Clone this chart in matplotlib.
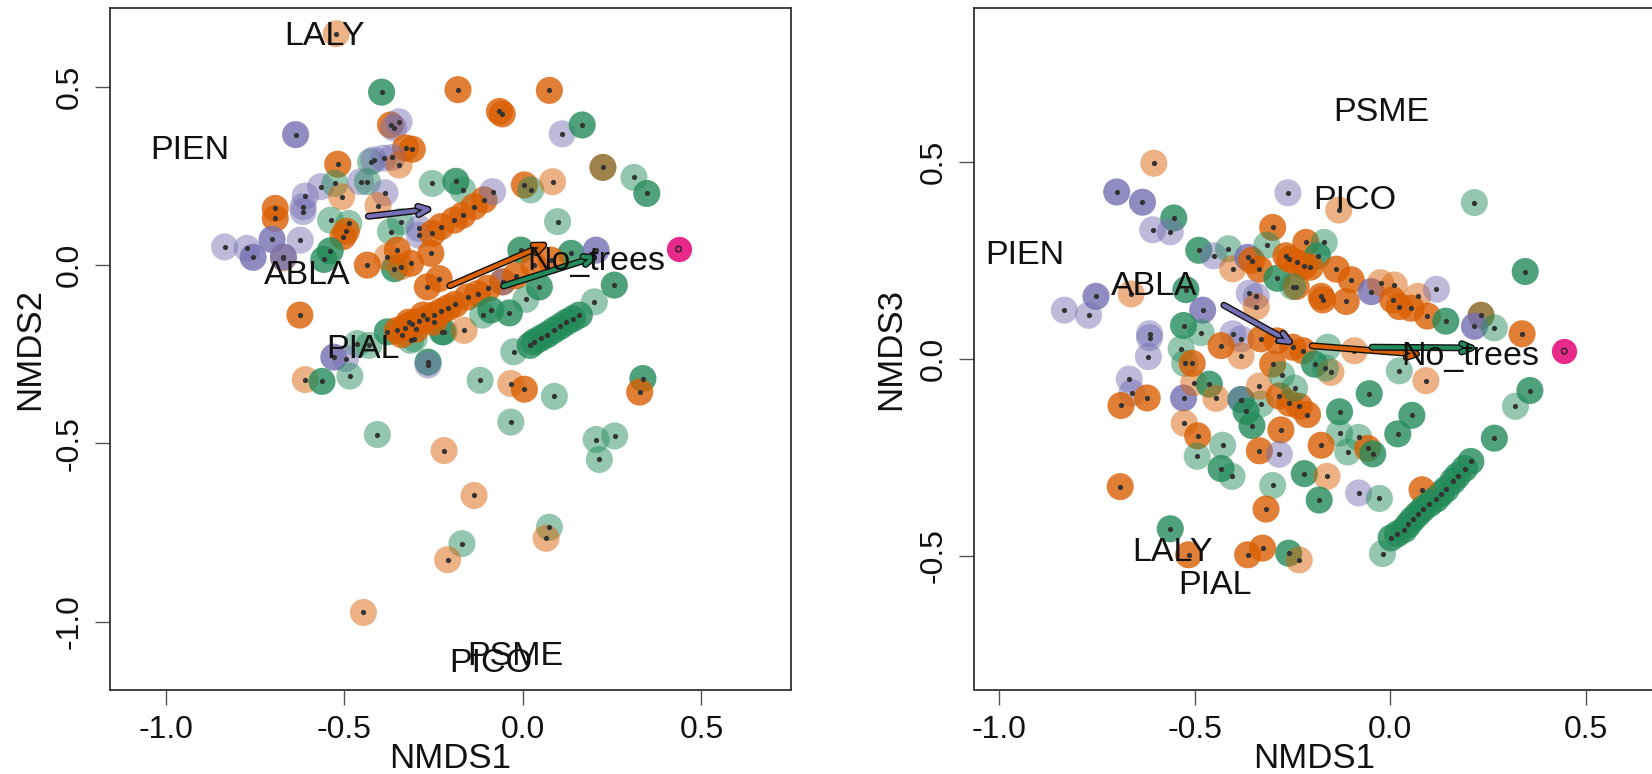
import matplotlib.pyplot as plt
import matplotlib.patheffects as pe
from matplotlib.colors import to_rgba

plt.rcParams['font.family'] = ['Liberation Sans', 'DejaVu Sans']
plt.rcParams['axes.unicode_minus'] = False

# ---- site scores, panel 1 (NMDS1 vs NMDS2) ----
# group codes: g/o/p = green/orange/purple, L/D = light/dark, b = brown, pk = pink
site12 = [
    (-0.523, 0.649, 'oL'), (-0.396, 0.485, 'gD'), (-0.182, 0.492, 'oD'), (0.074, 0.490, 'oD'),
    (-0.066, 0.431, 'oD'), (-0.058, 0.424, 'oD'), (0.110, 0.368, 'pL'), (0.166, 0.393, 'gD'),
    (-0.637, 0.366, 'pD'), (-0.371, 0.393, 'oD'), (-0.347, 0.402, 'pL'), (-0.362, 0.385, 'pL'),
    (-0.310, 0.325, 'oD'), (-0.329, 0.329, 'oD'), (-0.519, 0.283, 'oD'), (-0.427, 0.290, 'gL'),
    (-0.418, 0.295, 'pL'), (-0.390, 0.300, 'pL'), (-0.366, 0.302, 'pL'), (-0.347, 0.281, 'oL'),
    (0.224, 0.274, 'b'), (0.311, 0.246, 'gL'), (0.347, 0.201, 'gD'), (-0.567, 0.220, 'pL'),
    (-0.527, 0.229, 'gL'), (-0.508, 0.192, 'oL'), (-0.610, 0.194, 'pL'), (-0.616, 0.164, 'pL'),
    (-0.616, 0.150, 'pL'), (-0.455, 0.234, 'pL'), (-0.436, 0.234, 'gL'), (-0.387, 0.203, 'pL'),
    (-0.406, 0.167, 'oL'), (-0.254, 0.229, 'gL'), (-0.188, 0.235, 'gD'), (-0.169, 0.211, 'gL'),
    (-0.694, 0.159, 'oD'), (-0.694, 0.131, 'oD'), (-0.539, 0.126, 'gL'), (-0.488, 0.117, 'gL'),
    (-0.495, 0.095, 'oD'), (-0.504, 0.080, 'oD'), (-0.540, 0.040, 'gD'), (-0.558, 0.016, 'gD'),
    (-0.836, 0.051, 'pL'), (-0.773, 0.047, 'pL'), (-0.756, 0.022, 'pD'), (-0.703, 0.072, 'pD'),
    (-0.624, 0.070, 'pL'), (-0.671, 0.020, 'oL'), (-0.671, 0.023, 'pD'), (-0.371, 0.094, 'gL'),
    (-0.343, 0.122, 'gL'), (-0.291, 0.103, 'pL'), (-0.291, 0.084, 'pL'), (-0.109, 0.183, 'oD'),
    (-0.085, 0.206, 'pL'), (-0.137, 0.164, 'oD'), (-0.169, 0.140, 'oD'), (-0.193, 0.126, 'oD'),
    (-0.230, 0.108, 'oD'), (-0.254, 0.089, 'oD'), (-0.258, 0.033, 'oD'), (-0.436, 0.000, 'oD'),
    (-0.360, -0.010, 'gD'), (-0.380, 0.023, 'oL'), (-0.352, 0.042, 'oD'), (-0.315, 0.005, 'oD'),
    (-0.343, -0.005, 'oL'), (0.004, 0.225, 'oD'), (0.022, 0.211, 'gL'), (0.083, 0.234, 'oL'),
    (0.097, 0.122, 'gL'), (-0.006, 0.042, 'gD'), (0.135, 0.033, 'gD'), (0.205, 0.042, 'pD'),
    (0.256, -0.056, 'gD'), (0.200, -0.103, 'gL'), (0.079, 0.014, 'oD'), (0.030, 0.000, 'oD'),
    (-0.057, -0.047, 'oD'), (-0.057, -0.047, 'pL'), (-0.268, -0.061, 'oD'), (-0.235, -0.038, 'oD'),
    (-0.155, -0.089, 'oD'), (-0.127, -0.080, 'oD'), (-0.099, -0.065, 'oD'), (-0.020, -0.030, 'oD'),
    (-0.380, -0.187, 'gD'), (-0.315, -0.211, 'gL'), (-0.226, -0.187, 'gD'), (-0.305, -0.206, 'gL'),
    (-0.221, -0.187, 'gL'), (-0.352, -0.183, 'oD'), (-0.340, -0.195, 'oD'), (-0.330, -0.175, 'oD'),
    (-0.320, -0.160, 'oD'), (-0.310, -0.165, 'oD'), (-0.300, -0.180, 'oD'), (-0.290, -0.158, 'oD'),
    (-0.280, -0.140, 'oD'), (-0.270, -0.150, 'oD'), (-0.250, -0.140, 'oD'), (-0.250, -0.160, 'oD'),
    (-0.230, -0.130, 'oD'), (-0.210, -0.120, 'oD'), (-0.190, -0.110, 'oD'), (-0.165, -0.183, 'oL'),
    (-0.266, -0.272, 'gD'), (-0.266, -0.280, 'pL'), (-0.530, -0.258, 'pD'), (-0.464, -0.220, 'gL'),
    (-0.432, -0.225, 'gL'), (-0.497, -0.262, 'pL'), (-0.610, -0.321, 'oL'), (-0.563, -0.326, 'gD'),
    (-0.485, -0.311, 'gL'), (-0.408, -0.475, 'gL'), (-0.221, -0.520, 'oL'), (-0.625, -0.140, 'oD'),
    (-0.026, -0.243, 'gL'), (-0.120, -0.323, 'gL'), (-0.034, -0.332, 'oL'), (0.004, -0.348, 'oD'),
    (0.088, -0.368, 'gL'), (0.336, -0.318, 'gD'), (0.327, -0.356, 'oD'), (-0.034, -0.440, 'gL'),
    (0.205, -0.489, 'gL'), (0.257, -0.479, 'gL'), (0.214, -0.545, 'gL'), (-0.137, -0.646, 'oL'),
    (0.074, -0.735, 'gL'), (0.065, -0.766, 'oL'), (-0.171, -0.781, 'gL'), (-0.211, -0.826, 'oL'),
    (-0.447, -0.974, 'oL'), (0.020, -0.225, 'gD'), (0.032, -0.215, 'gD'), (0.050, -0.205, 'gD'),
    (0.068, -0.195, 'gD'), (0.086, -0.183, 'gD'), (0.104, -0.172, 'gD'), (0.122, -0.160, 'gD'),
    (0.140, -0.150, 'gD'), (0.158, -0.140, 'gD'), (-0.038, -0.134, 'gD'), (-0.113, -0.140, 'gL'),
    (-0.090, -0.126, 'gD'), (0.008, -0.096, 'gL'), (0.046, -0.061, 'gD'),
    (0.436, 0.045, 'pk'),
]

# ---- site scores, panel 2 (NMDS1 vs NMDS3) ----
site13 = [
    (-0.605, 0.497, 'oL'), (-0.700, 0.424, 'pD'), (-0.634, 0.398, 'pD'), (-0.554, 0.358, 'gD'),
    (-0.608, 0.328, 'pL'), (-0.563, 0.323, 'pL'), (-0.262, 0.422, 'pL'), (-0.132, 0.378, 'oL'),
    (0.215, 0.397, 'gL'), (0.345, 0.222, 'gD'), (-0.301, 0.334, 'oD'), (-0.490, 0.276, 'gD'),
    (-0.452, 0.262, 'pL'), (-0.414, 0.280, 'gL'), (-0.403, 0.229, 'oL'), (-0.365, 0.258, 'pD'),
    (-0.355, 0.250, 'oD'), (-0.316, 0.289, 'gL'), (-0.335, 0.228, 'oD'), (-0.290, 0.205, 'gD'),
    (-0.267, 0.262, 'oD'), (-0.239, 0.245, 'oD'), (-0.216, 0.296, 'oD'), (-0.169, 0.296, 'gL'),
    (-0.186, 0.262, 'gD'), (-0.220, 0.236, 'oD'), (-0.258, 0.253, 'oD'), (-0.205, 0.233, 'oD'),
    (-0.241, 0.184, 'oD'), (-0.177, 0.159, 'oD'), (-0.173, 0.150, 'oD'), (-0.113, 0.146, 'oD'),
    (-0.138, 0.228, 'oD'), (-0.100, 0.201, 'oD'), (-0.049, 0.171, 'pD'), (-0.025, 0.194, 'oL'),
    (0.010, 0.188, 'oL'), (0.006, 0.150, 'oD'), (0.023, 0.133, 'oD'), (0.053, 0.129, 'oD'),
    (0.070, 0.159, 'oL'), (0.095, 0.109, 'oD'), (0.118, 0.177, 'pL'), (0.142, 0.096, 'gD'),
    (0.232, 0.111, 'b'), (0.215, 0.083, 'pD'), (0.266, 0.079, 'gL'), (0.337, 0.064, 'oD'),
    (-0.361, 0.167, 'pL'), (-0.343, 0.159, 'pL'), (-0.343, 0.133, 'oL'), (-0.250, 0.184, 'gL'),
    (-0.834, 0.124, 'pL'), (-0.772, 0.111, 'pL'), (-0.753, 0.159, 'pD'), (-0.663, 0.165, 'oL'),
    (-0.523, 0.176, 'gD'), (-0.480, 0.124, 'pD'), (-0.616, 0.064, 'pL'), (-0.616, 0.054, 'pL'),
    (-0.619, 0.006, 'pL'), (-0.529, 0.085, 'gD'), (-0.484, 0.067, 'gL'), (-0.535, 0.026, 'gL'),
    (-0.526, -0.011, 'gL'), (-0.507, -0.011, 'oD'), (-0.403, 0.064, 'pL'), (-0.382, 0.051, 'pL'),
    (-0.433, 0.034, 'oD'), (-0.382, 0.008, 'oL'), (-0.331, 0.051, 'oD'), (-0.290, 0.046, 'oD'),
    (-0.301, -0.013, 'oD'), (-0.250, 0.030, 'oD'), (-0.224, 0.021, 'oD'), (-0.194, -0.013, 'gD'),
    (-0.160, 0.030, 'gL'), (-0.152, -0.034, 'oL'), (-0.166, -0.023, 'gL'), (-0.092, 0.021, 'oL'),
    (0.023, -0.030, 'gL'), (0.091, -0.055, 'oL'), (-0.668, -0.051, 'pL'), (-0.661, -0.086, 'pL'),
    (-0.689, -0.118, 'oD'), (-0.622, -0.099, 'oD'), (-0.529, -0.099, 'pD'), (-0.503, -0.060, 'oL'),
    (-0.463, -0.064, 'gD'), (-0.446, -0.100, 'oL'), (-0.382, -0.103, 'gD'), (-0.382, -0.103, 'pL'),
    (-0.369, -0.133, 'gD'), (-0.331, -0.114, 'gL'), (-0.335, -0.069, 'oL'), (-0.284, -0.094, 'oD'),
    (-0.258, -0.112, 'oD'), (-0.233, -0.120, 'oD'), (-0.212, -0.141, 'oD'), (-0.130, -0.134, 'gD'),
    (-0.278, -0.040, 'gL'), (-0.245, -0.074, 'gL'), (-0.054, -0.088, 'gD'), (-0.527, -0.163, 'oL'),
    (-0.493, -0.195, 'oD'), (-0.494, -0.247, 'gL'), (-0.429, -0.219, 'gL'), (-0.354, -0.169, 'gD'),
    (-0.280, -0.180, 'oD'), (-0.335, -0.233, 'oD'), (-0.284, -0.242, 'pL'), (-0.433, -0.278, 'gD'),
    (-0.405, -0.298, 'gL'), (-0.691, -0.324, 'oD'), (-0.301, -0.321, 'gL'), (-0.318, -0.381, 'oD'),
    (-0.563, -0.431, 'gD'), (-0.516, -0.497, 'oD'), (-0.365, -0.497, 'oD'), (-0.327, -0.480, 'oD'),
    (-0.260, -0.493, 'gD'), (-0.233, -0.510, 'oL'), (-0.130, -0.188, 'gL'), (-0.109, -0.236, 'gL'),
    (-0.081, -0.199, 'gL'), (-0.177, -0.219, 'oD'), (-0.058, -0.227, 'oD'), (-0.045, -0.241, 'gD'),
    (0.055, -0.143, 'gD'), (0.019, -0.190, 'gD'), (-0.220, -0.291, 'gD'), (-0.162, -0.298, 'oL'),
    (-0.182, -0.358, 'gD'), (-0.081, -0.340, 'pL'), (-0.028, -0.354, 'gL'), (0.357, -0.080, 'gD'),
    (0.320, -0.120, 'gL'), (0.266, -0.201, 'gD'), (0.206, -0.260, 'gD'), (0.190, -0.278, 'gD'),
    (0.172, -0.296, 'gD'), (0.160, -0.310, 'gD'), (0.143, -0.330, 'gD'), (0.130, -0.342, 'gD'),
    (0.081, -0.332, 'oD'), (0.117, -0.356, 'gD'), (0.100, -0.368, 'gD'), (0.083, -0.381, 'gD'),
    (0.070, -0.394, 'gD'), (0.057, -0.407, 'gD'), (0.046, -0.420, 'gD'), (0.036, -0.433, 'gD'),
    (0.018, -0.444, 'gD'), (0.002, -0.454, 'gD'), (-0.020, -0.494, 'gL'),
    (0.445, 0.020, 'pk'),
]

# ---- species scores ----
species = ['LALY', 'PIEN', 'ABLA', 'PIAL', 'PSME', 'PICO', 'No_trees']
species_nmds1 = [-0.556, -0.934, -0.603, -0.449, -0.022, -0.091, 0.205]
species_nmds2 = [0.640, 0.322, -0.030, -0.238, -1.097, -1.118, 0.010]
species_nmds3 = [-0.490, 0.262, 0.185, -0.575, 0.626, 0.402, 0.006]

# ---- fitted vectors (start x, start y, end x, end y) ----
arrow_cols = ['#7570B3', '#D95F02', '#238B5A']
arrows12 = [(-0.441, 0.136, -0.244, 0.159), (-0.212, -0.061, 0.079, 0.065), (-0.062, -0.061, 0.219, 0.028)]
arrows13 = [(-0.432, 0.140, -0.240, 0.034), (-0.207, 0.034, 0.087, 0.011), (-0.054, 0.030, 0.228, 0.028)]

base = {'g': '#238B5A', 'o': '#D95F02', 'p': '#7570B3'}
shade = {'L': 0.48, 'D': 0.8}


def rgba(code):
    if code == 'b':
        return to_rgba('#8E6B2C', 0.85)
    if code == 'pk':
        return to_rgba('#E7298A', 1.0)
    return to_rgba(base[code[0]], shade[code[1]])


def draw(ax, sites, sp_y, arrows, xlim, ylim, ylab):
    pts = [s for s in sites if s[2] != 'pk']
    pk = [s for s in sites if s[2] == 'pk']
    xs = [p[0] for p in pts]
    ys = [p[1] for p in pts]
    ax.scatter(xs, ys, s=380, c=[rgba(p[2]) for p in pts], linewidths=0, zorder=2)
    ax.scatter(xs, ys, s=14, c='#333333', linewidths=0, zorder=3)
    ax.scatter([p[0] for p in pk], [p[1] for p in pk], s=330, c='#E7298A', linewidths=0, zorder=3)
    ax.scatter([p[0] for p in pk], [p[1] for p in pk], s=16, facecolors='none',
               edgecolors='#222222', linewidths=1.0, zorder=4)
    for (x0, y0, x1, y1), col in zip(arrows, arrow_cols):
        ax.annotate('', xy=(x1, y1), xytext=(x0, y0), zorder=5,
                    arrowprops=dict(arrowstyle='->,head_length=0.7,head_width=0.3',
                                    color=col, lw=3,
                                    path_effects=[pe.Stroke(linewidth=5, foreground='#111111'),
                                                  pe.Normal()]))
    for name, x, y in zip(species, species_nmds1, sp_y):
        ax.text(x, y, name, fontsize=24.5, ha='center', va='center', color='#111111', zorder=6)
    ax.set_xlim(*xlim)
    ax.set_ylim(*ylim)
    ax.set_xticks([-1.0, -0.5, 0.0, 0.5])
    ax.set_xticklabels(['-1.0', '-0.5', '0.0', '0.5'])
    for sp in ax.spines.values():
        sp.set_color('#333333')
        sp.set_linewidth(1.3)
    ax.tick_params(direction='out', length=11, width=1, color='#555555',
                   labelsize=23, pad=7.5, labelcolor='#111111')
    ax.set_xlabel('NMDS1', fontsize=25, color='#111111')
    ax.set_ylabel(ylab, fontsize=25, color='#111111')


fig = plt.figure(figsize=(16.52, 7.74), dpi=100)
ax1 = fig.add_axes([110 / 1652, 1 - 689.5 / 774, 681 / 1652, 681.5 / 774])
ax2 = fig.add_axes([974 / 1652, 1 - 689.5 / 774, 681 / 1652, 681.5 / 774])

draw(ax1, site12, species_nmds2, arrows12, (-1.157, 0.751), (-1.190, 0.721), 'NMDS2')
ax1.set_yticks([-1.0, -0.5, 0.0, 0.5])
ax1.set_yticklabels(['-1.0', '-0.5', '0.0', '0.5'], rotation=90, va='center')
draw(ax2, site13, species_nmds3, arrows13, (-1.065, 0.677), (-0.839, 0.891), 'NMDS3')
ax2.set_yticks([-0.5, 0.0, 0.5])
ax2.set_yticklabels(['-0.5', '0.0', '0.5'], rotation=90, va='center')

for ax, lx in ((ax1, -0.1175), (ax2, -0.123)):
    ax.xaxis.set_label_coords(0.5, -0.101)
    ax.xaxis.label.set_va('center')
    ax.yaxis.set_label_coords(lx, 0.5)
    ax.yaxis.label.set_va('center')

fig.savefig('out.png', dpi=100)
